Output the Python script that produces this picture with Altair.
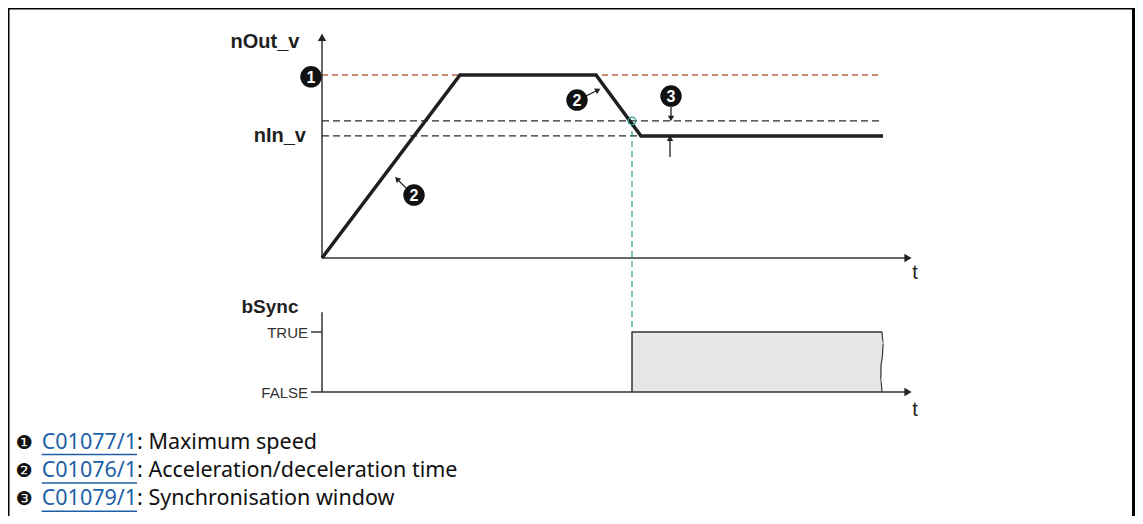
import altair as alt
import pandas as pd

W, H = 1127, 508

# ---- scale domains (time units / speed % / bSync level / legend row) ----
T_DOMAIN = [-31.4, 81.3]
V_DOMAIN = [-140.98, 136.61]
B_DOMAIN = [-2.067, 6.4]
R_DOMAIN = [-15.36, 2.59]

# ---- upper diagram: speed profile ----
prof_t = [0, 13.8, 27.4, 31.9, 56.1]
prof_v = [0, 100, 100, 66.7, 66.7]
n_max = 100.0
n_win = 74.9
n_in = 66.7
t_ref_end = 56.1
t_max_end = 55.8
v_axis_top = 122.0
t_axis_end = 58.8
t_sync = 31.0

# markers (1, 2, 2, 3)
mk_t = [-1.1, 9.2, 25.5, 34.9]
mk_v = [99.0, 34.4, 86.3, 88.5]
mk_lab = ["1", "2", "2", "3"]

# annotation arrows (tail -> head)
ar_t = [8.4, 26.2, 34.9, 34.8]
ar_v = [38.3, 88.0, 82.5, 55.2]
ar_t2 = [7.5, 27.6, 34.9, 34.8]
ar_v2 = [43.2, 91.8, 76.2, 65.4]
ar_ang = [315, 63, 180, 0]

# ---- lower diagram: bSync ----
b_false, b_true = 0.0, 1.0
b_axis_top = 1.33
t_sync_end = 56.0
wave_t = [56.0, 56.12, 56.05, 55.9, 55.88, 56.0]
wave_b = [1.0, 0.82, 0.62, 0.42, 0.2, 0.0]

# ---- legend ----
bullets = ["\u2776", "\u2777", "\u2778"]
codes = ["C01077/1", "C01076/1", "C01079/1"]
descs = ["Maximum speed", "Acceleration/deceleration time", "Synchronisation window"]

INK = "#1f1f1f"
LBL = "Liberation Sans, Arial, sans-serif"
NARROW = "Liberation Sans Narrow, Arial Narrow, Liberation Sans, sans-serif"
NOTE = "Noto Sans, Open Sans, sans-serif"
NOTE_SIZE = 21.5
CODE_W = 4.436 * NOTE_SIZE  # advance width of "C0xxxx/1" in Noto Sans
X_CODE = 33.7


def X(f="t"):
    return alt.X(f"{f}:Q", scale=alt.Scale(domain=T_DOMAIN, nice=False, zero=False), axis=None)


def YV(f="v"):
    return alt.Y(f"{f}:Q", scale=alt.Scale(domain=V_DOMAIN, nice=False, zero=False), axis=None)


def YB(f="b"):
    return alt.Y(f"{f}:Q", scale=alt.Scale(domain=B_DOMAIN, nice=False, zero=False), axis=None)


def YR(f):
    return alt.Y(f"{f}:Q", scale=alt.Scale(domain=R_DOMAIN, reverse=True, nice=False, zero=False), axis=None)


# ===== upper group =====
prof = pd.DataFrame({"t": prof_t, "v": prof_v})
line_prof = alt.Chart(prof).mark_line(color=INK, strokeWidth=3.5, strokeJoin="miter").encode(x=X(), y=YV())

ref_red = alt.Chart(pd.DataFrame({"t": [0], "t2": [t_max_end], "v": [n_max]})).mark_rule(
    color="#b8654a", strokeWidth=1.3, strokeDash=[6, 4]
).encode(x=X(), x2="t2:Q", y=YV())

ref_blk = alt.Chart(pd.DataFrame({"t": [0, 0], "t2": [t_ref_end, t_ref_end], "v": [n_win, n_in]})).mark_rule(
    color="#2a2a2a", strokeWidth=1.2, strokeDash=[7, 4]
).encode(x=X(), x2="t2:Q", y=YV())

axes_top = alt.Chart(pd.DataFrame({"t": [0, 0], "t2": [0, t_axis_end], "v": [0, 0], "v2": [v_axis_top, 0]})).mark_rule(
    color="#333333", strokeWidth=1.5
).encode(x=X(), x2="t2:Q", y=YV(), y2="v2:Q")

heads_top = alt.Chart(pd.DataFrame({"t": [0, t_axis_end - 0.2], "v": [v_axis_top - 1.5, 0], "ang": [0, 90]})).mark_point(
    shape="triangle-up", filled=True, color="#222222", size=70, opacity=1
).encode(x=X(), y=YV(), angle=alt.Angle("ang:Q", scale=None))

mk = pd.DataFrame({"t": mk_t, "v": mk_v, "lab": mk_lab})
mk_dots = alt.Chart(mk).mark_point(shape="circle", filled=True, color="#111111", size=460, opacity=1).encode(x=X(), y=YV())
mk_text = alt.Chart(mk).mark_text(color="white", font=LBL, fontWeight="bold", fontSize=16, baseline="middle", dy=1).encode(
    x=X(), y=YV(), text="lab:N"
)

ar = pd.DataFrame({"t": ar_t, "v": ar_v, "t2": ar_t2, "v2": ar_v2, "ang": ar_ang})
ar_stem = alt.Chart(ar).mark_rule(color=INK, strokeWidth=1.3).encode(x=X(), x2="t2:Q", y=YV(), y2="v2:Q")
ar_head = alt.Chart(ar).mark_point(shape="triangle-up", filled=True, color=INK, size=40, opacity=1).encode(
    x=X("t2"), y=YV("v2"), angle=alt.Angle("ang:Q", scale=None)
)

cyan = alt.Chart(pd.DataFrame({"t": [t_sync], "v": [n_win], "v2": [-40.4]})).mark_rule(
    color="#2b9c92", strokeWidth=1.2, strokeDash=[6, 4]
).encode(x=X(), y=YV(), y2="v2:Q")
cyan_dot = alt.Chart(pd.DataFrame({"t": [t_sync], "v": [n_win]})).mark_point(
    shape="circle", filled=False, color="#2b9c92", size=60, strokeWidth=1.2, opacity=1
).encode(x=X(), y=YV())

txt_nout = alt.Chart(pd.DataFrame({"t": [-5.7], "v": [118.0], "txt": ["nOut_v"]})).mark_text(
    font=LBL, fontWeight="bold", fontSize=20, color=INK, align="center", baseline="middle").encode(
    x=X(), y=YV(), text="txt:N")
txt_nin = alt.Chart(pd.DataFrame({"t": [-1.6], "v": [n_in], "txt": ["nIn_v"]})).mark_text(
    font=LBL, fontWeight="bold", fontSize=20, color=INK, align="right", baseline="middle").encode(
    x=X(), y=YV(), text="txt:N")
txt_t1 = alt.Chart(pd.DataFrame({"t": [59.3], "v": [-8.0], "txt": ["t"]})).mark_text(
    font=LBL, fontSize=20, color=INK, align="center", baseline="middle").encode(x=X(), y=YV(), text="txt:N")

top = alt.layer(ref_red, ref_blk, cyan, axes_top, heads_top, line_prof, cyan_dot, ar_stem, ar_head, mk_dots, mk_text,
                txt_nout, txt_nin, txt_t1)

# ===== lower group =====
rect = alt.Chart(pd.DataFrame({"t": [t_sync], "t2": [t_sync_end], "b": [b_false], "b2": [b_true]})).mark_rect(
    color="#e6e7e8").encode(x=X(), x2="t2:Q", y=YB(), y2="b2:Q")
edges = alt.Chart(pd.DataFrame({"t": [t_sync, t_sync], "t2": [t_sync_end, t_sync], "b": [b_true, b_false], "b2": [b_true, b_true]})).mark_rule(
    color="#333333", strokeWidth=1.5).encode(x=X(), x2="t2:Q", y=YB(), y2="b2:Q")
wave = alt.Chart(pd.DataFrame({"t": wave_t, "b": wave_b})).mark_line(color="#333333", strokeWidth=1.2, interpolate="monotone").encode(
    x=X(), y=YB(), order=alt.Order("b:Q"))
axes_bot = alt.Chart(pd.DataFrame({"t": [0, 0, -1.1, -1.1], "t2": [0, t_axis_end, 0, 0],
                                   "b": [b_false, b_false, b_true, b_false], "b2": [b_axis_top, b_false, b_true, b_false]})).mark_rule(
    color="#333333", strokeWidth=1.5).encode(x=X(), x2="t2:Q", y=YB(), y2="b2:Q")
head_bot = alt.Chart(pd.DataFrame({"t": [t_axis_end - 0.2], "b": [b_false], "ang": [90]})).mark_point(
    shape="triangle-up", filled=True, color="#222222", size=70, opacity=1).encode(x=X(), y=YB(), angle=alt.Angle("ang:Q", scale=None))
txt_levels = alt.Chart(pd.DataFrame({"t": [-1.4, -1.4], "b": [b_true, b_false], "txt": ["TRUE", "FALSE"]})).mark_text(
    font=NARROW, fontSize=15, color="#333333", align="right", baseline="middle", dy=1).encode(x=X(), y=YB(), text="txt:N")
txt_bsync = alt.Chart(pd.DataFrame({"t": [-5.2], "b": [1.42], "txt": ["bSync"]})).mark_text(
    font=LBL, fontWeight="bold", fontSize=19, color=INK, align="center", baseline="middle").encode(x=X(), y=YB(), text="txt:N")
txt_t2 = alt.Chart(pd.DataFrame({"t": [59.3], "b": [-0.3], "txt": ["t"]})).mark_text(
    font=LBL, fontSize=20, color=INK, align="center", baseline="middle").encode(x=X(), y=YB(), text="txt:N")

bottom = alt.layer(rect, edges, wave, axes_bot, head_bot, txt_levels, txt_bsync, txt_t2)

# ===== legend notes =====
leg = pd.DataFrame({"row": [0, 1, 2], "bul": bullets, "code": codes,
                    "rest": [": " + d for d in descs]})
leg["ul"] = leg["row"] + 0.42
leg_bul = alt.Chart(leg).mark_text(font="DejaVu Sans", fontSize=19, color="#111111", align="center", baseline="middle").encode(
    x=alt.value(16), y=YR("row"), text="bul:N")
leg_code = alt.Chart(leg).mark_text(font=NOTE, fontSize=NOTE_SIZE, color="#1d5fa6", align="left", baseline="middle").encode(
    x=alt.value(X_CODE), y=YR("row"), text="code:N")
leg_rest = alt.Chart(leg).mark_text(font=NOTE, fontSize=NOTE_SIZE, color="#111111", align="left", baseline="middle").encode(
    x=alt.value(X_CODE + CODE_W), y=YR("row"), text="rest:N")
leg_ul = alt.Chart(leg).mark_rule(color="#1d5fa6", strokeWidth=1.5).encode(
    x=alt.value(X_CODE), x2=alt.value(X_CODE + CODE_W), y=YR("ul"))

frame = alt.Chart(pd.DataFrame({"k": [0]})).mark_rule(color="black", strokeWidth=3)
frame_l = frame.encode(x=alt.value(0), y=alt.value(0), y2=alt.value(H))
frame_t = frame.encode(x=alt.value(0), x2=alt.value(W - 1.5), y=alt.value(0))
frame_r = frame.encode(x=alt.value(W - 1.5), y=alt.value(0), y2=alt.value(H))

notes = alt.layer(leg_bul, leg_code, leg_rest, leg_ul, frame_l, frame_t, frame_r)

chart = alt.layer(top, bottom, notes).resolve_scale(y="independent").properties(
    width=W, height=H, autosize=alt.AutoSizeParams(type="none"), padding=0,
).configure_view(stroke=None).configure(background="white")

chart.save("out.html", embed_options={"renderer": "svg", "actions": False})
